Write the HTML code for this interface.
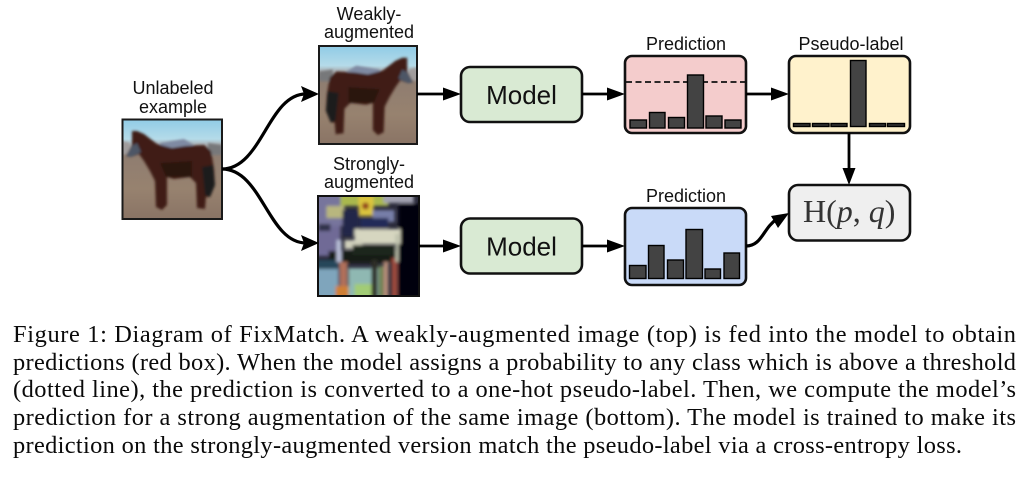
<!DOCTYPE html>
<html><head><meta charset="utf-8"><style>
html,body{margin:0;padding:0;background:#fff;width:1024px;height:478px;overflow:hidden}
svg{display:block}
.s{font-family:"Liberation Sans",sans-serif;fill:#111;text-anchor:middle}
.c{font-family:"Liberation Serif",serif;font-size:24.4px;fill:#0a0a0a}
.b{fill:#434343;stroke:#000;stroke-width:1.4}
.k{fill:#333;stroke:#000;stroke-width:1.4}
.x{fill:none;stroke:#000;stroke-width:2.8}
.l{fill:none;stroke:#000;stroke-width:3.2}
</style></head><body>
<svg width="1024" height="478" viewBox="0 0 1024 478" xmlns="http://www.w3.org/2000/svg">
<defs>
<filter id="bl" x="-10%" y="-10%" width="120%" height="120%"><feGaussianBlur stdDeviation="1.3"/></filter>
<filter id="b2" x="-10%" y="-10%" width="120%" height="120%"><feGaussianBlur stdDeviation="1.7"/></filter>
<linearGradient id="sky" x1="0" y1="0" x2="0" y2="1"><stop offset="0" stop-color="#8fcbe6"/><stop offset="0.2" stop-color="#b5dbe9"/><stop offset="0.27" stop-color="#a9a7a8"/><stop offset="0.36" stop-color="#8f7d70"/><stop offset="0.7" stop-color="#97826f"/><stop offset="1" stop-color="#8a7465"/></linearGradient>
<clipPath id="cp"><rect width="100" height="100"/></clipPath>
<g id="horse" clip-path="url(#cp)">
<rect width="100" height="100" fill="url(#sky)"/>
<g filter="url(#bl)">
<path d="M38 24 L62 20 L72 26 L40 30Z" fill="#7f8aa3"/>
<path d="M0 22 L8 24 L8 34 L0 36Z" fill="#a09c9c"/>
<path d="M86 24 L100 26 L100 36 L86 36Z" fill="#77787a"/>
<path d="M4 37 L10 26 L10 12 L15 12 L22 15 L35 25 L50 29 L63 27 L82 26 L89 32 L92 50 L93 66 L88 78 L84 78 L83 90 L75 89 L74 64 L68 58 L52 60 L45 58 L45 86 L40 91 L34 88 L33 62 L28 52 L22 42 L17 35 L9 38Z" fill="#3f1f18"/>
<path d="M4 37 L10 27 L15 24 L19 33 L9 38Z" fill="#4d5666"/>
<path d="M80 48 L91 46 L93 66 L88 78 L83 76Z" fill="#1c1c1c"/>
<path d="M38 44 L70 42 L70 58 L44 58Z" fill="#2a1310"/>
</g></g>
</defs>

<!-- images -->
<svg x="122" y="119" width="100" height="100" viewBox="0 0 100 100"><use href="#horse"/></svg>
<rect x="122.500" y="119.500" width="99.500" height="99.500" fill="none" stroke="#1a1a1a" stroke-width="2"/>
<g transform="translate(417,46) scale(-0.98,0.98)"><use href="#horse"/></g>
<rect x="319" y="46" width="98" height="98" fill="none" stroke="#1a1a1a" stroke-width="2"/>

<svg x="318" y="196" width="101" height="100" viewBox="0 0 100 100">
<rect width="100" height="100" fill="#2a2a3a"/>
<g filter="url(#b2)">
<rect x="-4" y="-4" width="30" height="34" fill="#77749c"/>
<rect x="-4" y="30" width="26" height="30" fill="#6f6a96"/>
<rect x="0" y="28" width="12" height="7" fill="#2e3048"/>
<rect x="8" y="10" width="18" height="12" fill="#b8b67e"/>
<rect x="22" y="-4" width="48" height="14" fill="#a9b84e"/>
<rect x="40" y="0" width="15" height="20" fill="#dcc53c"/>
<circle cx="47" cy="10" r="3.500" fill="#93401f"/>
<rect x="24" y="14" width="17" height="26" fill="#24274a"/>
<rect x="54" y="14" width="22" height="12" fill="#777ea8"/>
<rect x="65" y="-4" width="30" height="11" fill="#a3a3b2"/>
<rect x="80" y="8" width="24" height="96" fill="#050508"/>
<rect x="42" y="22" width="28" height="10" fill="#232a58"/>
<rect x="36" y="33" width="46" height="15" fill="#d6d6c0"/>
<rect x="26" y="44" width="18" height="9" fill="#d0d0bc"/>
<rect x="10" y="55" width="70" height="12" fill="#131d18"/>
<rect x="34" y="49" width="42" height="10" fill="#1a261f"/>
<rect x="-4" y="64" width="26" height="9" fill="#26475a"/>
<rect x="-4" y="73" width="24" height="31" fill="#7fa5bc"/>
<rect x="30" y="72" width="30" height="32" fill="#8fb8b2"/>
<rect x="36" y="88" width="20" height="16" fill="#a2cc76"/>
<rect x="60" y="70" width="8" height="34" fill="#6d8252"/>
<rect x="21" y="66" width="8" height="38" fill="#b0705a"/>
<rect x="17" y="90" width="13" height="14" fill="#cf7f35"/>
<rect x="53" y="64" width="6" height="38" fill="#2e2e28"/>
<rect x="65" y="66" width="5" height="38" fill="#b38a78"/>
<rect x="73" y="62" width="6" height="42" fill="#9c483c"/>
<rect x="77" y="38" width="3" height="28" fill="#b9bda8"/>
<rect x="18" y="44" width="5" height="22" fill="#b7bed6"/>
</g></svg>
<rect x="318" y="196" width="101" height="100" fill="none" stroke="#111" stroke-width="2"/>

<!-- curves -->
<path class="l" d="M222 169 C262 169 268 94 306 94"/>
<path class="l" d="M222 169 C262 169 268 243 306 243"/>
<polygon points="319,94 301,86 304,94 301,102" fill="#000"/>
<polygon points="319,243 301,235 304,243 301,251" fill="#000"/>

<!-- labels -->
<g class="s" font-size="18">
<text x="173" y="94">Unlabeled</text><text x="173" y="113">example</text>
<text x="369" y="20">Weakly-</text><text x="369" y="38">augmented</text>
<text x="369" y="170">Strongly-</text><text x="369" y="188">augmented</text>
<text x="686" y="50">Prediction</text><text x="851" y="50">Pseudo-label</text>
<text x="686" y="202">Prediction</text>
</g>

<!-- boxes -->
<rect x="461" y="67" width="121" height="55" rx="9" fill="#d9ead3" stroke="#111" stroke-width="2.600"/>
<rect x="461" y="218.500" width="121" height="55" rx="9" fill="#d9ead3" stroke="#111" stroke-width="2.600"/>
<text class="s" x="521.500" y="104" font-size="26">Model</text>
<text class="s" x="521.500" y="255.500" font-size="26">Model</text>

<rect x="625" y="56" width="121" height="77" rx="7" fill="#f4cccc" stroke="#111" stroke-width="2.600"/>
<rect x="789" y="56" width="121" height="77" rx="7" fill="#fff2cc" stroke="#111" stroke-width="2.600"/>
<rect x="625" y="208" width="121" height="77" rx="7" fill="#c9daf8" stroke="#111" stroke-width="2.600"/>
<rect x="789" y="185" width="121" height="55.500" rx="9" fill="#efefef" stroke="#111" stroke-width="2.600"/>

<!-- red bars -->
<line x1="626" y1="82" x2="745" y2="82" stroke="#111" stroke-width="1.800" stroke-dasharray="6 3.500"/>
<rect class="b" x="630" y="120" width="16.500" height="8"/>
<rect class="b" x="649.500" y="112.500" width="15.500" height="15.500"/>
<rect class="b" x="668.500" y="117.500" width="16" height="10.500"/>
<rect class="b" x="687.500" y="75" width="16" height="53"/>
<rect class="b" x="706" y="116" width="16" height="12"/>
<rect class="b" x="725" y="120" width="16" height="8"/>

<!-- pseudo bars -->
<rect class="k" x="793.500" y="123.500" width="16.500" height="3"/>
<rect class="k" x="812.500" y="123.500" width="16.500" height="3"/>
<rect class="k" x="831" y="123.500" width="16" height="3"/>
<rect class="b" x="850.500" y="60.500" width="15.500" height="66"/>
<rect class="k" x="869.500" y="123.500" width="16" height="3"/>
<rect class="k" x="887.500" y="123.500" width="17" height="3"/>

<!-- blue bars -->
<rect class="b" x="629.500" y="265.500" width="16.500" height="13"/>
<rect class="b" x="648.500" y="245.500" width="15.500" height="33"/>
<rect class="b" x="667.500" y="260" width="16" height="18.500"/>
<rect class="b" x="686" y="229.500" width="16.500" height="49"/>
<rect class="b" x="705" y="269" width="15.500" height="9.500"/>
<rect class="b" x="724" y="253" width="15.500" height="25.500"/>

<!-- formula -->
<text x="803" y="222" font-family="'Liberation Serif',serif" font-size="32" fill="#333">H(<tspan font-style="italic">p</tspan>, <tspan font-style="italic">q</tspan>)</text>

<!-- connectors -->
<line class="x" x1="417" y1="94" x2="445" y2="94"/>
<polygon points="461,94 443,87.500 443,100.500" fill="#000"/>
<line class="x" x1="419" y1="246" x2="445" y2="246"/>
<polygon points="461,246 443,239.500 443,252.500" fill="#000"/>
<line class="x" x1="582" y1="94" x2="609" y2="94"/>
<polygon points="625,94 607,87.500 607,100.500" fill="#000"/>
<line class="x" x1="582" y1="246" x2="609" y2="246"/>
<polygon points="625,246 607,239.500 607,252.500" fill="#000"/>
<line class="x" x1="746" y1="94" x2="773" y2="94"/>
<polygon points="789,94 771,87.500 771,100.500" fill="#000"/>
<line class="x" x1="849" y1="133" x2="849" y2="170"/>
<polygon points="849,185 842.500,168 855.500,168" fill="#000"/>
<path class="l" d="M746 246 C762 246 763 228 777 219"/>
<polygon points="789,213 771,216 778,228" fill="#000"/>

<!-- caption -->
<text class="c" x="13" y="342" textLength="1003" lengthAdjust="spacing">Figure 1: Diagram of FixMatch. A weakly-augmented image (top) is fed into the model to obtain</text>
<text class="c" x="13" y="370" textLength="1003" lengthAdjust="spacing">predictions (red box). When the model assigns a probability to any class which is above a threshold</text>
<text class="c" x="13" y="397" textLength="1003" lengthAdjust="spacing">(dotted line), the prediction is converted to a one-hot pseudo-label. Then, we compute the model’s</text>
<text class="c" x="13" y="425" textLength="1003" lengthAdjust="spacing">prediction for a strong augmentation of the same image (bottom). The model is trained to make its</text>
<text class="c" x="13" y="453" textLength="949" lengthAdjust="spacing">prediction on the strongly-augmented version match the pseudo-label via a cross-entropy loss.</text>
</svg>
</body></html>
